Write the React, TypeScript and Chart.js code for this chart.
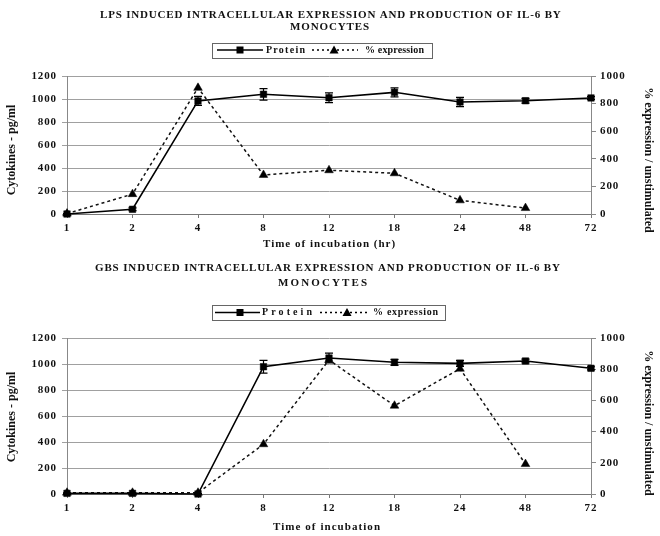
import React, { useEffect, useRef } from 'react';
import { Chart, registerables } from 'chart.js';

Chart.register(...registerables);

// ---------- data ----------
const hours = ['1', '2', '4', '8', '12', '18', '24', '48', '72'];

const lpsProtein = [0, 41, 983, 1041, 1011, 1058, 974, 985, 1009];
const lpsProteinErr = [4, 12, 39, 50, 43, 39, 40, 20, 12];
const lpsExpression = [3, 144, 914, 283, 317, 295, 99, 43, null];

const gbsProtein = [5, 5, 0, 979, 1046, 1013, 1005, 1023, 967];
const gbsProteinErr = [4, 4, 4, 49, 38, 23, 23, 15, 12];
const gbsExpression = [8, 8, 8, 319, 859, 566, 803, 192, null];

const leftAxisMax = 1200;
const rightAxisMax = 1000;
const axisStep = 200;

const lpsTitle = ['LPS INDUCED INTRACELLULAR EXPRESSION AND PRODUCTION OF IL-6 BY', 'MONOCYTES'];
const gbsTitle = ['GBS INDUCED INTRACELLULAR EXPRESSION AND PRODUCTION OF IL-6 BY', 'MONOCYTES'];
const lpsXTitle = 'Time of incubation (hr)';
const gbsXTitle = 'Time of incubation';
const leftTitle = 'Cytokines - pg/ml';
const rightTitle = '% expression / unstimulated';
const seriesNames = ['Protein', '% expression'];

// ---------- layout ----------
const SERIF = '"Liberation Serif", "Times New Roman", serif';

type Span = [number, number];
type Spec = {
  height: number;
  chartTop: number;
  chartBottom: number;
  title: string[];
  titleY: number[];
  titleSpans: Span[];
  legendY: number;
  legendBox: Span;
  legendLine: Span;
  legendSquare: number;
  legendText1: Span;
  legendDash: Span;
  legendTri: number;
  legendText2: Span;
  xTitle: string;
  xTitleY: number;
  xTitleSpan: Span;
  leftTitleY: number;
  rightTitleY: number;
  protein: (number | null)[];
  proteinErr: number[];
  expression: (number | null)[];
};

const topSpec: Spec = {
  height: 260,
  chartTop: 76,
  chartBottom: 214,
  title: lpsTitle,
  titleY: [15, 27],
  titleSpans: [[100, 561], [290, 369]],
  legendY: 50,
  legendBox: [212, 432],
  legendLine: [217, 263],
  legendSquare: 240,
  legendText1: [266, 305],
  legendDash: [312, 358],
  legendTri: 334,
  legendText2: [365, 424],
  xTitle: lpsXTitle,
  xTitleY: 244,
  xTitleSpan: [263, 395],
  leftTitleY: 150,
  rightTitleY: 160,
  protein: lpsProtein,
  proteinErr: lpsProteinErr,
  expression: lpsExpression,
};

const bottomSpec: Spec = {
  height: 276,
  chartTop: 78,
  chartBottom: 234,
  title: gbsTitle,
  titleY: [8, 23],
  titleSpans: [[95, 560], [278, 367]],
  legendY: 52.5,
  legendBox: [212, 445],
  legendLine: [215, 260],
  legendSquare: 240,
  legendText1: [262, 312],
  legendDash: [320, 370],
  legendTri: 347,
  legendText2: [373, 438],
  xTitle: gbsXTitle,
  xTitleY: 267,
  xTitleSpan: [273, 380],
  leftTitleY: 157,
  rightTitleY: 163,
  protein: gbsProtein,
  proteinErr: gbsProteinErr,
  expression: gbsExpression,
};

function drawSpaced(ctx: CanvasRenderingContext2D, text: string, x0: number, x1: number, y: number, font: string) {
  ctx.save();
  ctx.font = font;
  (ctx as any).letterSpacing = '0px';
  const w = ctx.measureText(text).width;
  const n = text.length;
  const sp = n > 1 ? (x1 - x0 - w) / (n - 1) : 0;
  (ctx as any).letterSpacing = sp.toFixed(2) + 'px';
  ctx.textAlign = 'left';
  ctx.textBaseline = 'middle';
  ctx.fillStyle = '#111';
  ctx.fillText(text, x0, y);
  ctx.restore();
}

function drawRotated(ctx: CanvasRenderingContext2D, text: string, x: number, y: number, angle: number, font: string) {
  ctx.save();
  (ctx as any).letterSpacing = '0px';
  ctx.translate(x, y);
  ctx.rotate(angle);
  ctx.font = font;
  ctx.textAlign = 'center';
  ctx.textBaseline = 'middle';
  ctx.fillStyle = '#111';
  ctx.fillText(text, 0, 0);
  ctx.restore();
}

function makeDecorPlugin(spec: Spec) {
  return {
    id: 'decor',
    beforeDraw(chart: any) {
      (chart.ctx as any).letterSpacing = '0.9px';
    },
    afterDatasetsDraw(chart: any) {
      const ctx = chart.ctx as CanvasRenderingContext2D;
      const xs = chart.scales.x;
      const ys = chart.scales.y;
      ctx.save();
      ctx.strokeStyle = '#000';
      ctx.lineWidth = 1.2;
      spec.protein.forEach((v, i) => {
        if (v === null) return;
        const e = spec.proteinErr[i];
        const x = xs.getPixelForValue(i);
        const yTop = ys.getPixelForValue(v + e);
        const yBot = ys.getPixelForValue(Math.max(0, v - e));
        ctx.beginPath();
        ctx.moveTo(x, yTop);
        ctx.lineTo(x, yBot);
        ctx.moveTo(x - 4, yTop);
        ctx.lineTo(x + 4, yTop);
        ctx.moveTo(x - 4, yBot);
        ctx.lineTo(x + 4, yBot);
        ctx.stroke();
      });
      ctx.restore();
    },
    afterDraw(chart: any) {
      const ctx = chart.ctx as CanvasRenderingContext2D;
      (ctx as any).letterSpacing = '0px';
      const titleFont = `bold 11px ${SERIF}`;
      spec.title.forEach((t, i) => {
        drawSpaced(ctx, t, spec.titleSpans[i][0], spec.titleSpans[i][1], spec.titleY[i], titleFont);
      });
      // legend
      const ly = spec.legendY;
      ctx.save();
      ctx.strokeStyle = '#666';
      ctx.lineWidth = 1;
      ctx.strokeRect(spec.legendBox[0] + 0.5, Math.round(ly - 7.5) + 0.5, spec.legendBox[1] - spec.legendBox[0], 15);
      ctx.strokeStyle = '#000';
      ctx.lineWidth = 1.6;
      ctx.beginPath();
      ctx.moveTo(spec.legendLine[0], ly);
      ctx.lineTo(spec.legendLine[1], ly);
      ctx.stroke();
      ctx.fillStyle = '#000';
      ctx.fillRect(spec.legendSquare - 3.5, ly - 3.5, 7, 7);
      ctx.lineWidth = 1.5;
      ctx.setLineDash([2, 3]);
      ctx.beginPath();
      ctx.moveTo(spec.legendDash[0], ly);
      ctx.lineTo(spec.legendDash[1], ly);
      ctx.stroke();
      ctx.setLineDash([]);
      ctx.beginPath();
      ctx.moveTo(spec.legendTri, ly - 4.5);
      ctx.lineTo(spec.legendTri + 4.5, ly + 3.5);
      ctx.lineTo(spec.legendTri - 4.5, ly + 3.5);
      ctx.closePath();
      ctx.fill();
      ctx.restore();
      const legFont = `bold 10px ${SERIF}`;
      drawSpaced(ctx, seriesNames[0], spec.legendText1[0], spec.legendText1[1], ly, legFont);
      drawSpaced(ctx, seriesNames[1], spec.legendText2[0], spec.legendText2[1], ly, legFont);
      // axis titles
      drawSpaced(ctx, spec.xTitle, spec.xTitleSpan[0], spec.xTitleSpan[1], spec.xTitleY, `bold 11px ${SERIF}`);
      drawRotated(ctx, leftTitle, 12, spec.leftTitleY, -Math.PI / 2, `bold 12px ${SERIF}`);
      drawRotated(ctx, rightTitle, 648, spec.rightTitleY, Math.PI / 2, `bold 12px ${SERIF}`);
    },
  };
}

function IL6Chart({ spec }: { spec: Spec }) {
  const ref = useRef<HTMLCanvasElement>(null);
  useEffect(() => {
    if (!ref.current) return;
    const tickFont = { family: SERIF, weight: 'bold' as const, size: 11 };
    const plain = (v: any) => String(v);
    const chart = new Chart(ref.current, {
      type: 'line',
      data: {
        labels: hours,
        datasets: [
          {
            label: seriesNames[0],
            data: spec.protein,
            yAxisID: 'y',
            borderColor: '#000',
            backgroundColor: '#000',
            borderWidth: 1.6,
            pointStyle: 'rect',
            pointRadius: 4.6,
            pointBorderWidth: 0.5,
            pointBorderColor: '#000',
            pointBackgroundColor: '#000',
            tension: 0,
            clip: false as any,
          },
          {
            label: seriesNames[1],
            data: spec.expression,
            yAxisID: 'y1',
            borderColor: '#111',
            backgroundColor: '#000',
            borderWidth: 1.5,
            borderDash: [3, 3],
            pointStyle: 'triangle',
            pointRadius: 5,
            pointBorderWidth: 0.5,
            pointBorderColor: '#000',
            pointBackgroundColor: '#000',
            tension: 0,
            spanGaps: false,
            clip: false as any,
          },
        ],
      },
      options: {
        responsive: false,
        animation: false,
        devicePixelRatio: 1,
        layout: { padding: { top: spec.chartTop, left: 0, right: 0, bottom: 0 } },
        plugins: {
          legend: { display: false },
          title: { display: false },
          tooltip: { enabled: false },
        },
        scales: {
          x: {
            type: 'category',
            offset: false,
            grid: { drawOnChartArea: false, drawTicks: true, tickLength: 4, color: '#777' },
            border: { display: true, color: '#777' },
            ticks: { font: tickFont, color: '#111', padding: 4, autoSkip: false, maxRotation: 0 },
            afterFit: (s: any) => {
              s.height = spec.height - spec.chartBottom;
            },
          },
          y: {
            position: 'left',
            min: 0,
            max: leftAxisMax,
            ticks: { stepSize: axisStep, font: tickFont, color: '#111', padding: 5, callback: plain },
            grid: { color: '#a0a0a0', tickLength: 5 },
            border: { display: true, color: '#888' },
            afterFit: (s: any) => {
              s.width = 67;
            },
          },
          y1: {
            position: 'right',
            min: 0,
            max: rightAxisMax,
            ticks: { stepSize: axisStep, font: tickFont, color: '#111', padding: 4, callback: plain },
            grid: { drawOnChartArea: false, tickLength: 5, color: '#888' },
            border: { display: true, color: '#888' },
            afterFit: (s: any) => {
              s.width = 69;
            },
          },
        },
      } as any,
      plugins: [makeDecorPlugin(spec)],
    });
    return () => chart.destroy();
  }, [spec]);
  return (
    <canvas
      ref={ref}
      width={660}
      height={spec.height}
      style={{ display: 'block', width: 660, height: spec.height }}
    />
  );
}

export default function App() {
  useEffect(() => {
    document.body.style.margin = '0';
    document.body.style.background = '#fff';
  }, []);
  return (
    <div style={{ width: 660, height: 536, background: '#fff' }}>
      <IL6Chart spec={topSpec} />
      <IL6Chart spec={bottomSpec} />
    </div>
  );
}
